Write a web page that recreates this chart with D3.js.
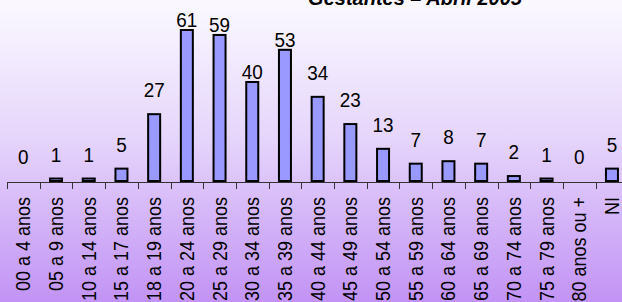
<!DOCTYPE html>
<html>
<head>
<meta charset="utf-8">
<script src="https://cdn.jsdelivr.net/npm/d3@7"></script>
<style>
  html, body { margin: 0; padding: 0; overflow: hidden; }
  svg { display: block; }
  text { font-family: "Liberation Sans", Arial, sans-serif; }
</style>
</head>
<body>
<figure id="bar" style="margin:0"></figure>
<script>
const categories = ["00 a 4 anos", "05 a 9 anos", "10 a 14 anos", "15 a 17 anos", "18 a 19 anos",
  "20 a 24 anos", "25 a 29 anos", "30 a 34 anos", "35 a 39 anos", "40 a 44 anos", "45 a 49 anos",
  "50 a 54 anos", "55 a 59 anos", "60 a 64 anos", "65 a 69 anos", "70 a 74 anos", "75 a 79 anos",
  "80 anos ou +", "NI"];
const values = [0, 1, 1, 5, 27, 61, 59, 40, 53, 34, 23, 13, 7, 8, 7, 2, 1, 0, 5];
const title = "Gestantes – Abril 2005";

const width = 622, height = 302;
const baseY = 182;

const svg = d3.select("figure#bar")
  .append("svg")
    .attr("width", width)
    .attr("height", height);

// background gradient
const grad = svg.append("defs").append("linearGradient")
  .attr("id", "bg").attr("x1", 0).attr("y1", 0).attr("x2", 0).attr("y2", 1);
grad.append("stop").attr("offset", "0%").attr("stop-color", "#fbf9ff");
grad.append("stop").attr("offset", "45%").attr("stop-color", "#e6d6fb");
grad.append("stop").attr("offset", "100%").attr("stop-color", "#c293f5");
svg.append("rect").attr("width", width).attr("height", height).attr("fill", "url(#bg)");

// title (the reference shows only its lower edge)
svg.append("text")
  .attr("x", 415)
  .attr("y", 5)
  .style("text-anchor", "middle")
  .style("font-weight", "bold")
  .style("font-style", "italic")
  .style("font-size", "20px")
  .text(title);

const x = d3.scaleBand()
  .domain(categories)
  .range([7, 7 + 32.7 * categories.length])
  .padding(0);

const y = d3.scaleLinear()
  .domain([0, 61])
  .range([baseY, 31]);

const barW = 12;

// axis line and ticks
const axis = svg.append("g").attr("stroke", "#333").attr("stroke-width", 1);
axis.append("line")
  .attr("x1", 7).attr("x2", width)
  .attr("y1", baseY + 0.5).attr("y2", baseY + 0.5);
axis.selectAll("line.tick")
  .data(categories)
  .enter()
  .append("line")
    .attr("class", "tick")
    .attr("x1", d => Math.round(x(d)) + 0.5)
    .attr("x2", d => Math.round(x(d)) + 0.5)
    .attr("y1", baseY)
    .attr("y2", baseY + 7);

// bars
svg.selectAll("rect.bar")
  .data(values)
  .enter()
  .append("rect")
    .attr("class", "bar")
    .attr("x", (d, i) => x(categories[i]) + x.bandwidth() / 2 - barW / 2)
    .attr("y", d => y(d) - 1)
    .attr("width", barW)
    .attr("height", d => baseY - y(d))
    .attr("fill", "#9999ff")
    .attr("stroke", "#000")
    .attr("stroke-width", d => d > 0 ? 2 : 0);

// value labels (slightly tall glyphs like the reference)
svg.selectAll("text.val")
  .data(values)
  .enter()
  .append("text")
    .attr("class", "val")
    .attr("transform", (d, i) => "translate(" + (x(categories[i]) + x.bandwidth() / 2) + "," +
      (y(d) - (d >= 40 ? 4 : 18)) + ")scale(1.05,1.12)")
    .style("text-anchor", "middle")
    .style("font-size", "18px")
    .text(d => d);

// category labels, rotated
svg.selectAll("text.cat")
  .data(categories)
  .enter()
  .append("text")
    .attr("class", "cat")
    .attr("transform", d => "translate(" + (x(d) + x.bandwidth() / 2 + 7) + "," + 197 + ")rotate(-90)scale(1,1.12)")
    .style("text-anchor", "end")
    .style("font-size", "18px")
    .text(d => d);
</script>
</body>
</html>
